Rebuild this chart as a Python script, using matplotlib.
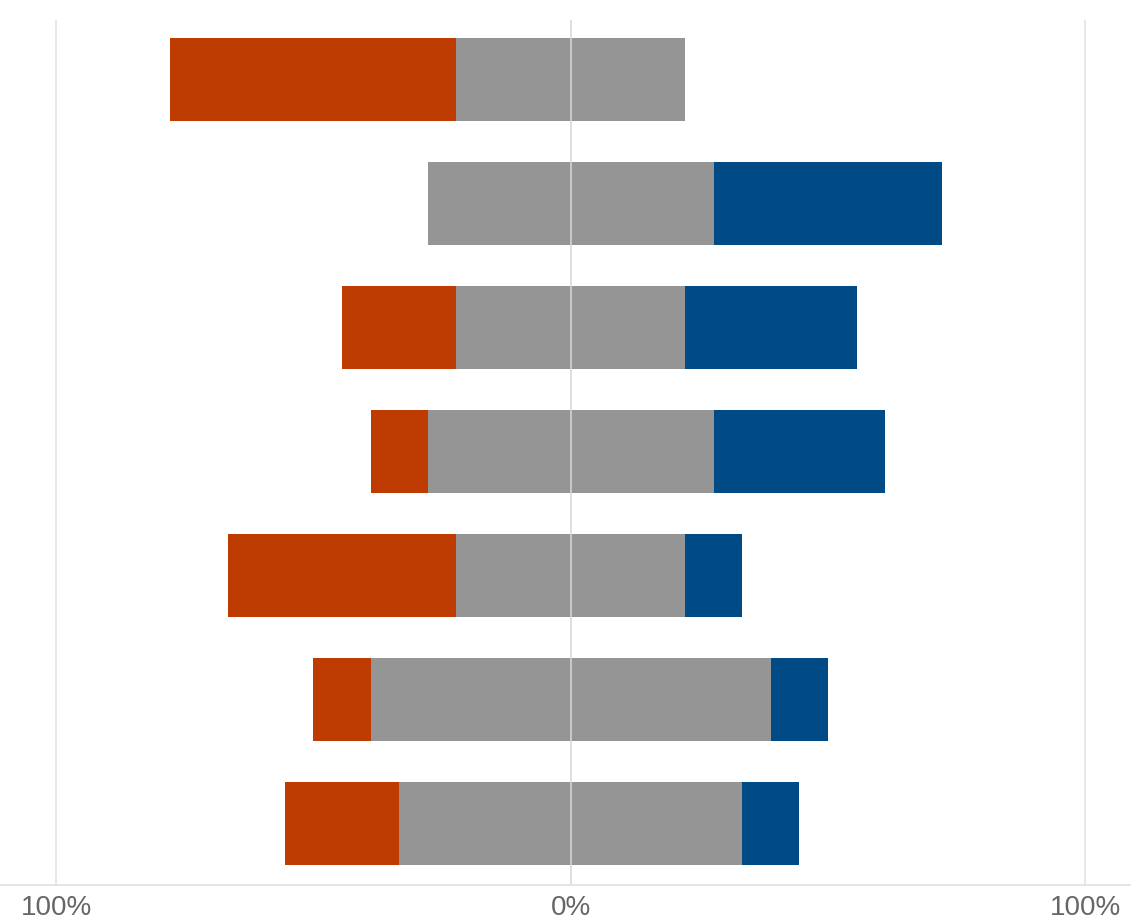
import numpy as np
import matplotlib
matplotlib.use("Agg")
import matplotlib.pyplot as plt

plt.rcParams['font.family'] = ['Liberation Sans', 'DejaVu Sans']

# responses per item (out of 9), top row first
disagree = [5, 0, 2, 1, 4, 1, 2]
neutral = [4, 5, 4, 5, 4, 7, 6]
agree = [0, 4, 3, 3, 1, 1, 1]

total = np.array(disagree) + np.array(neutral) + np.array(agree)
dis_pct = np.array(disagree) / total * 100
neu_pct = np.array(neutral) / total * 100
agr_pct = np.array(agree) / total * 100

tick_vals = [-100, 0, 100]
tick_labels = ["100%", "0%", "100%"]

red = '#BE3B02'
gray = '#959595'
blue = '#004A86'

fig = plt.figure(figsize=(11.31, 9.22), dpi=100)
ax = fig.add_axes([0, 0.0401, 1, 0.938])

y = np.arange(len(disagree))[::-1]
h = 0.67

# neutral split around zero, disagree to the left, agree to the right
ax.barh(y, neu_pct, left=-neu_pct / 2, height=h, color=gray, zorder=2)
ax.barh(y, dis_pct, left=-neu_pct / 2 - dis_pct, height=h, color=red, zorder=2)
ax.barh(y, agr_pct, left=neu_pct / 2, height=h, color=blue, zorder=2)

for v in tick_vals:
    ax.axvline(v, color='#e6e6e6', lw=1.3, zorder=1)
ax.axvline(0, color='#dcdcdc', lw=1.3, alpha=0.8, zorder=3)

ax.set_xlim(-110.9, 108.9)
ax.set_ylim(-0.496, 6.48)
ax.set_xticks(tick_vals)
ax.set_xticklabels(tick_labels, fontsize=20, color='#666666')
ax.tick_params(axis='x', length=0, pad=7)
ax.set_yticks([])

for s in ['top', 'left', 'right']:
    ax.spines[s].set_visible(False)
ax.spines['bottom'].set_color('#e0e0e0')
ax.spines['bottom'].set_linewidth(1.2)

fig.savefig("out.png", dpi=100)
